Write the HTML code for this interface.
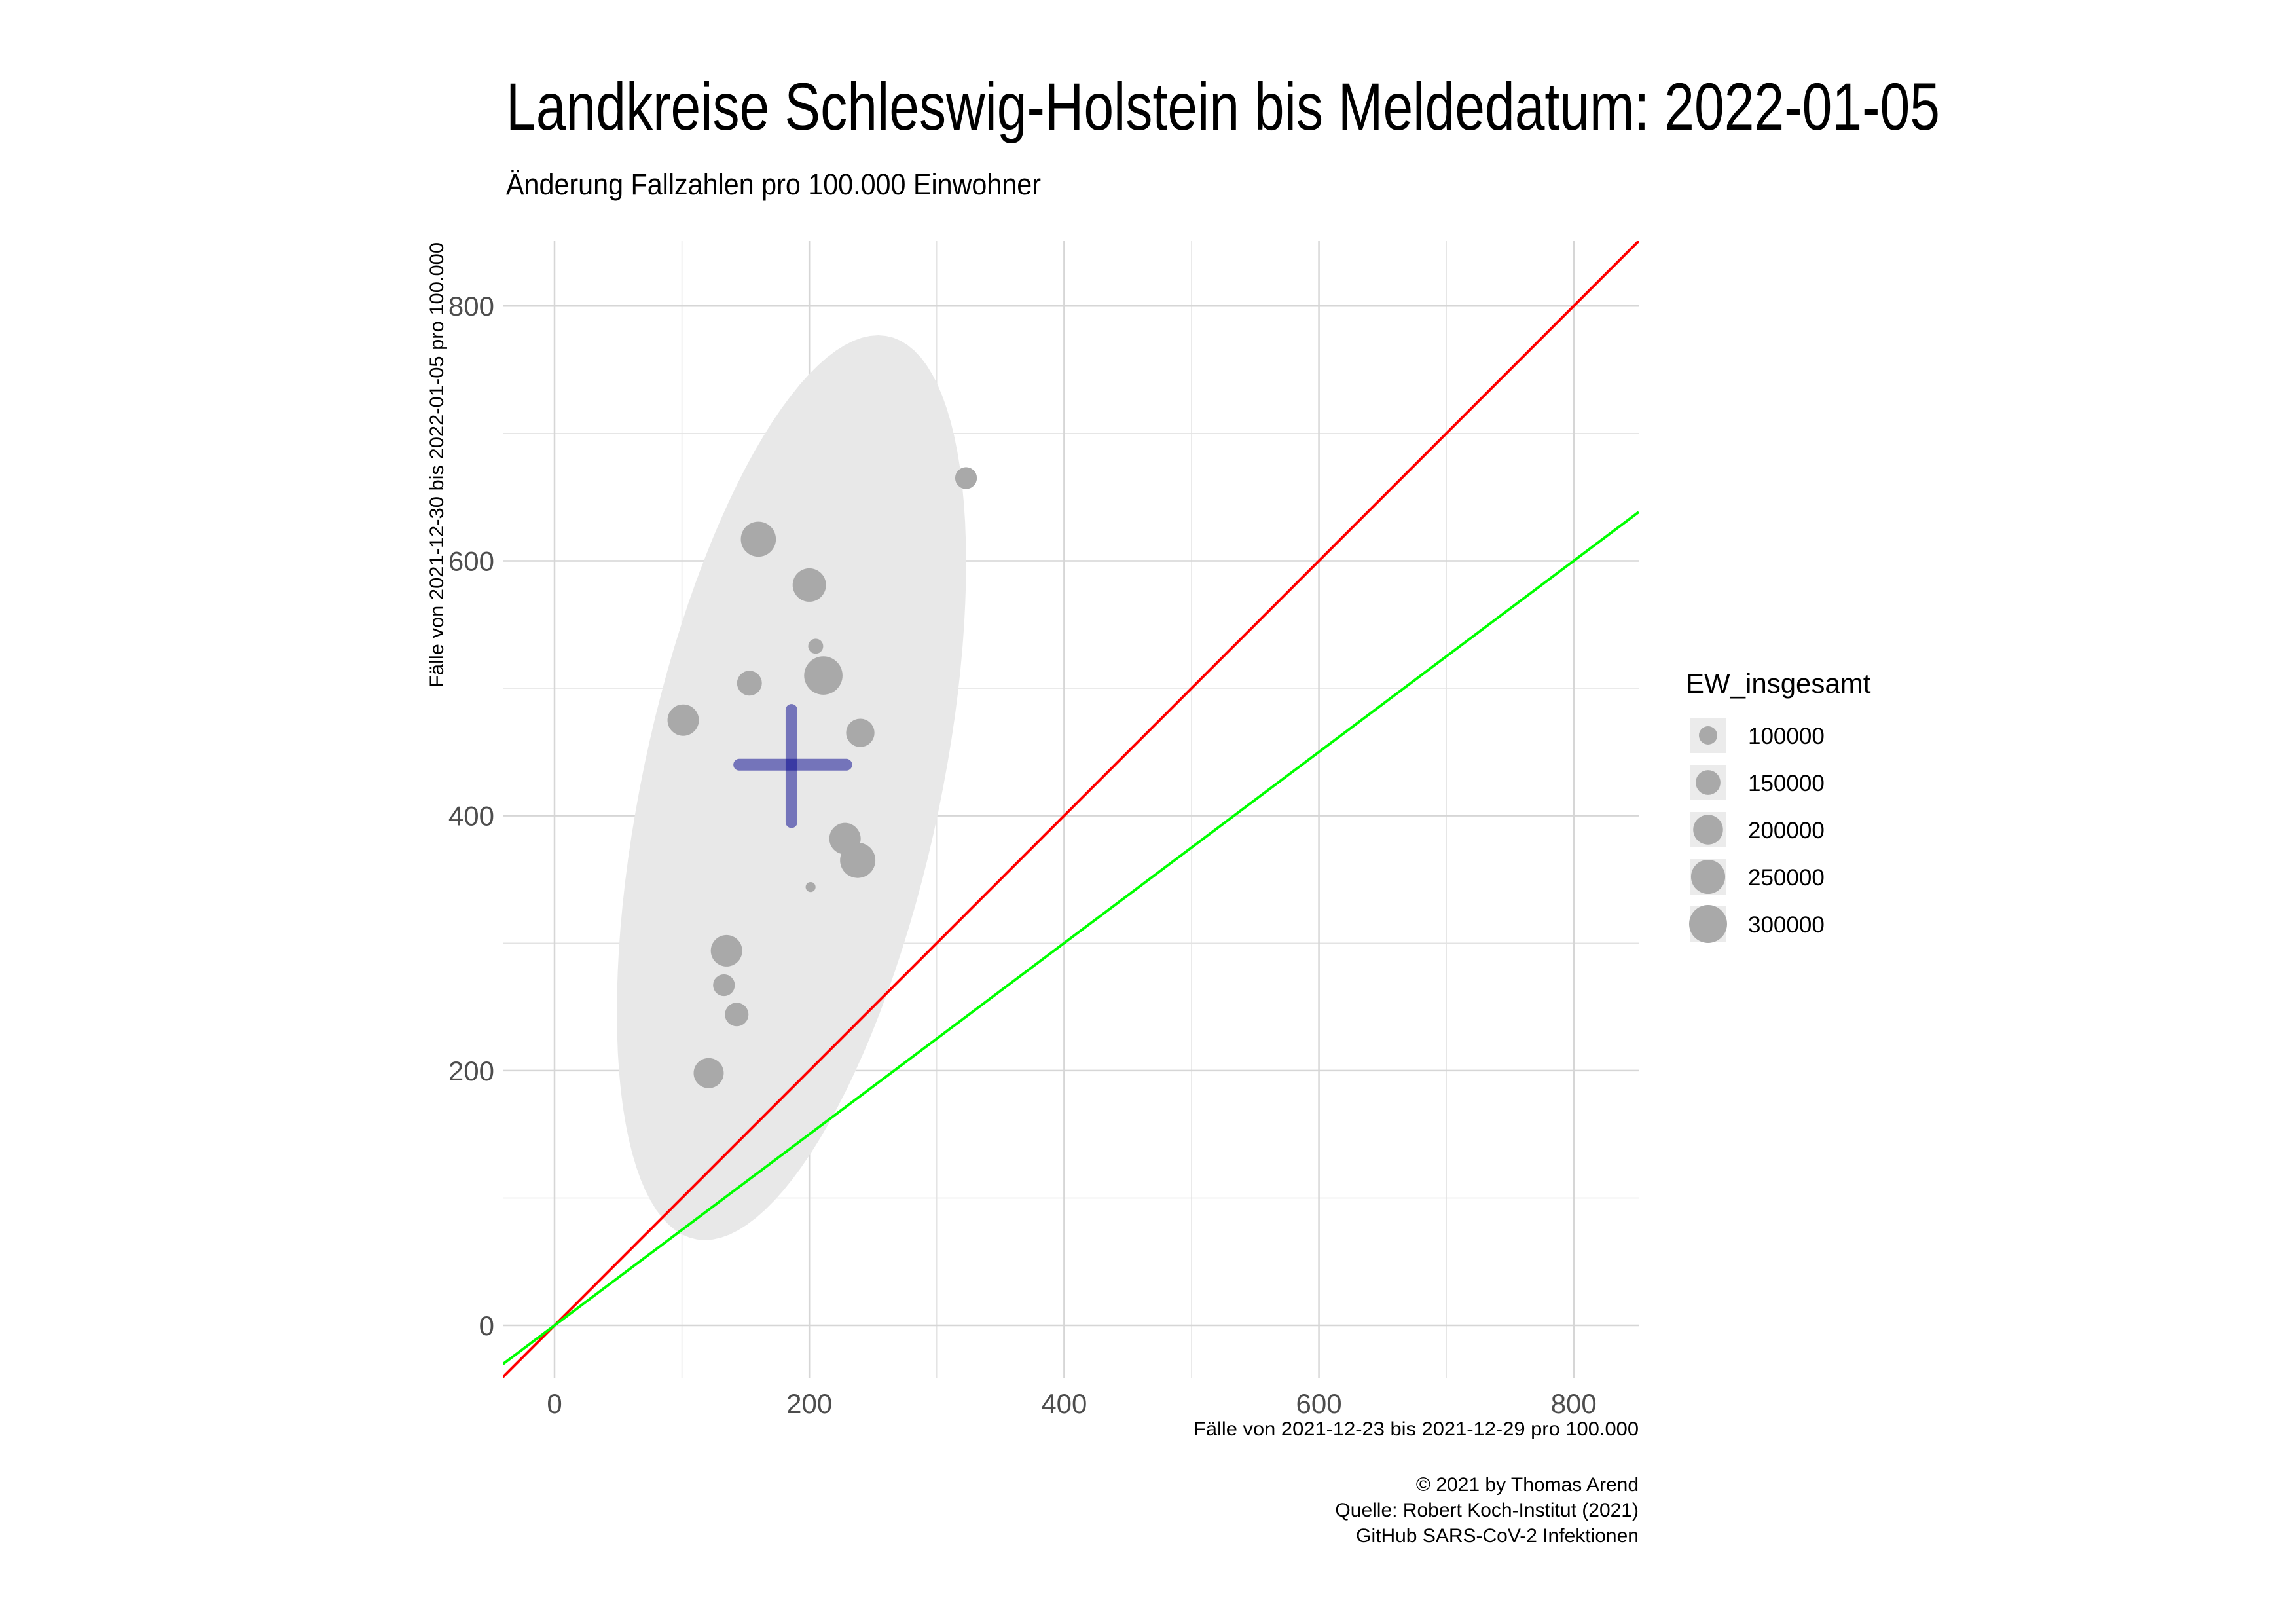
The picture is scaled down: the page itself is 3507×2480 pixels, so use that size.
<!DOCTYPE html>
<html><head><meta charset="utf-8"><style>
html,body{margin:0;padding:0;background:#fff}
svg{display:block}
text{font-family:"Liberation Sans",sans-serif}
</style></head><body>
<svg id="chart" width="3507" height="2480" xmlns="http://www.w3.org/2000/svg">
<rect width="3507" height="2480" fill="#fff"/>
<defs><clipPath id="pc"><rect x="768" y="368" width="1735" height="1737"/></clipPath></defs>
<text x="773" y="198" font-size="102" fill="#000" textLength="2190" lengthAdjust="spacingAndGlyphs">Landkreise Schleswig-Holstein bis Meldedatum: 2022-01-05</text>
<text x="773" y="297" font-size="45" fill="#000" textLength="817" lengthAdjust="spacingAndGlyphs">Änderung Fallzahlen pro 100.000 Einwohner</text>
<g id="grid"></g>
<g id="marks" clip-path="url(#pc)"></g>
<g id="axes"></g>
<text x="2503" y="2192" font-size="30" text-anchor="end" textLength="680" lengthAdjust="spacingAndGlyphs">Fälle von 2021-12-23 bis 2021-12-29 pro 100.000</text>
<text transform="translate(677,370) rotate(-90)" font-size="30" text-anchor="end" textLength="680" lengthAdjust="spacingAndGlyphs">Fälle von 2021-12-30 bis 2022-01-05 pro 100.000</text>
<g font-size="30" text-anchor="end">
<text x="2503" y="2277">© 2021 by Thomas Arend</text>
<text x="2503" y="2316">Quelle: Robert Koch-Institut (2021)</text>
<text x="2503" y="2355">GitHub SARS-CoV-2 Infektionen</text>
</g>
<g id="legend">
<text x="2575" y="1058" font-size="42">EW_insgesamt</text>
</g>
</svg>
<script>
const xVals = [323,160,200,205,211,153,101,240,228,238,201,135,133,143,121];
const yVals = [665,617,581,533,510,504,475,465,382,365,344,294,267,244,198];
const popVals = [125000,262000,241000,80000,306000,151000,218000,185000,218000,265000,57000,218000,125000,140000,203000];
const meanX = 186, meanY = 440;
const crossX = [145,229], crossY = [395,483];
const ellCenter = [186,422], ellV1 = [68,355], ellV2 = [119,0];
const xTicks = [0,200,400,600,800];
const yTicks = [0,200,400,600,800];
const minorTicks = [100,300,500,700];
const legendPops = [100000,150000,200000,250000,300000];
const legendLabels = ["100000","150000","200000","250000","300000"];
const lineSlopes = [1,0.75];

const NS="http://www.w3.org/2000/svg";
const L=768,R=2503,T=368,B=2105;
const xmin=-40.6,xmax=851,ymin=-41.6,ymax=851;
const sx=v=>L+(v-xmin)/(xmax-xmin)*(R-L);
const sy=v=>B-(v-ymin)/(ymax-ymin)*(B-T);
const rad=p=>Math.sqrt(Math.max(20,0.00322*p-126));
function mk(tag,attrs,parent){const e=document.createElementNS(NS,tag);for(const k in attrs)e.setAttribute(k,attrs[k]);parent.appendChild(e);return e;}
const grid=document.getElementById('grid'),marks=document.getElementById('marks'),axes=document.getElementById('axes'),legend=document.getElementById('legend');
minorTicks.forEach(v=>{
 let a=mk('line',{x1:sx(v),x2:sx(v),y1:T,y2:B,stroke:'#e3e3e3','stroke-width':1.5},grid);
 
 
 let b=mk('line',{x1:L,x2:R,y1:sy(v),y2:sy(v),stroke:'#e3e3e3','stroke-width':1.5},grid);
 
 
});
xTicks.forEach(v=>{
 let a=mk('line',{x1:sx(v),x2:sx(v),y1:T,y2:B,stroke:'#d6d6d6','stroke-width':2.5},grid);
 
 
 let t=mk('text',{x:sx(v),y:2158,'font-size':42,fill:'#4d4d4d','text-anchor':'middle'},axes);
 t.textContent=v;
 
 
});
yTicks.forEach(v=>{
 let a=mk('line',{x1:L,x2:R,y1:sy(v),y2:sy(v),stroke:'#d6d6d6','stroke-width':2.5},grid);
 
 
 let t=mk('text',{x:755,y:sy(v)+15,'font-size':42,fill:'#4d4d4d','text-anchor':'end'},axes);
 t.textContent=v;
 
 
});
let d='';
for(let i=0;i<=120;i++){const t=i/120*2*Math.PI;const px=ellCenter[0]+ellV1[0]*Math.cos(t)+ellV2[0]*Math.sin(t);const py=ellCenter[1]+ellV1[1]*Math.cos(t)+ellV2[1]*Math.sin(t);d+=(i?'L':'M')+sx(px).toFixed(1)+','+sy(py).toFixed(1);}
let el=mk('path',{d:d+'Z',fill:'#e8e8e8'},marks);


xVals.forEach((x,i)=>{
 let c=mk('circle',{cx:sx(x),cy:sy(yVals[i]),r:rad(popVals[i]),fill:'#a9a9a9'},marks);
 
 
});
let h=mk('line',{x1:sx(crossX[0]),x2:sx(crossX[1]),y1:sy(meanY),y2:sy(meanY),stroke:'#00008B','stroke-opacity':0.5,'stroke-width':18,'stroke-linecap':'round'},marks);


let vv=mk('line',{x1:sx(meanX),x2:sx(meanX),y1:sy(crossY[0]),y2:sy(crossY[1]),stroke:'#00008B','stroke-opacity':0.5,'stroke-width':18,'stroke-linecap':'round'},marks);


const cols=['#ff0000','#00ff00'];
lineSlopes.forEach((s,i)=>{
 let ln=mk('line',{x1:sx(xmin),y1:sy(s*xmin),x2:sx(xmax),y2:sy(s*xmax),stroke:cols[i],'stroke-width':4},marks);
 
 
});
const ly=[1123,1195,1267,1339,1411];
legendPops.forEach((p,i)=>{
 let g=mk('g',{},legend);
 
 
 let b=mk('rect',{x:2582,y:ly[i]-27,width:54,height:54,fill:'#ebebeb'},g);
 
 
 let c=mk('circle',{cx:2609,cy:ly[i],r:rad(p),fill:'#a9a9a9'},g);
 
 
 let t=mk('text',{x:2670,y:ly[i]+13,'font-size':35},g);
 t.textContent=legendLabels[i];
 
 
});
</script>
</body></html>
